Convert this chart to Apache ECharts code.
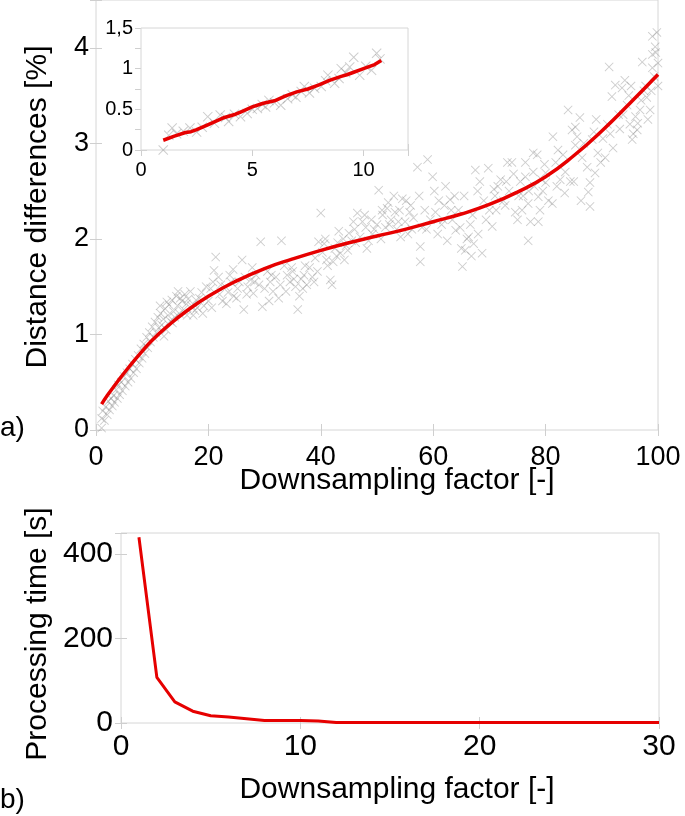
<!DOCTYPE html>
<html>
<head>
<meta charset="utf-8">
<script src="https://cdn.jsdelivr.net/npm/echarts@6/dist/echarts.min.js"></script>
<style>
html,body{margin:0;padding:0;background:#fff;}
#chart{width:685px;height:816px;}
</style>
</head>
<body>
<div id="chart"></div>
<script>
// ---------- DATA ----------
// Panel a) main: scatter of distance differences [%] vs downsampling factor
var mainScatter = [
[1,0.02],[1,0.12],[1.2,0.2],[1.5,0.1],[1.7,0.24],[2,0.16],[2.2,0.3],[2.4,0.21],[2.7,0.33],[2.9,0.25],
[3.1,0.36],[3.3,0.29],[3.6,0.42],[3.8,0.33],[4,0.47],[4.2,0.37],[4.5,0.5],[4.7,0.41],[5,0.56],[5.2,0.46],
[5.5,0.6],[5.7,0.5],[6,0.64],[6.2,0.54],[6.5,0.69],[6.7,0.6],[7,0.74],[7.2,0.64],[7.5,0.78],[7.7,0.7],
[8,0.85],[8.2,0.75],[8.5,0.9],[8.7,0.8],[9,0.97],[9.2,0.86],[9.5,1.02],[9.7,0.92],[10,1.08],[10.2,0.97],
[10.5,1.13],[10.7,1.02],[11,1.18],[11.2,1.07],[11.5,1.22],[11.7,1.1],[12,1.16],[12.3,1.27],[12.5,1.05],[12.8,1.2],
[13,1.31],[13.2,1.14],[13.5,1.36],[13.8,1.24],[14,1.18],[14.3,1.4],[14.5,1.3],[14.8,1.22],[15,1.38],[15.3,1.35],
[15.6,1.26],[15.8,1.42],[16.1,1.32],[16.4,1.37],[16.8,1.45],[17,1.3],[17.3,1.2],[17.6,1.25],[18,1.28],[18.4,1.38],
[18.8,1.44],[19.2,1.3],[19.6,1.5],[20,1.35],[20.4,1.48],[20.8,1.55],[21,1.67],[21.3,1.81],[21.8,1.6],[22.2,1.52],
[22,1.42],[22.5,1.35],[23,1.5],[23.5,1.44],
[24,1.55],[24.5,1.4],[25,1.38],[25.5,1.55],[26,1.78],[26.3,1.26],[26.5,1.6],[27,1.5],[27.5,1.57],[28,1.43],
[28.5,1.62],[29,1.52],[29.3,1.97],[29.6,1.29],[30,1.48],[30.5,1.66],[31,1.55],[31.5,1.45],[32,1.6],[32.5,1.38],
[33,1.98],[33.5,1.72],[34,1.62],[34.5,1.55],[35,1.66],[35.5,1.5],[35.9,1.26],[36.2,1.4],[36.5,1.58],[37,1.62],
[37.5,1.52],[38,1.7],[38.5,1.6],[39,1.8],[39.6,1.97],[40,2.27],[40.3,1.86],[40.6,1.95],[41,1.78],[41.2,1.72],
[41.7,1.57],[42,1.52],[42.5,1.9],[43,1.96],[43.5,1.85],[44,2.0],[44.5,1.93],[45,2.06],[45.5,1.98],[46,2.1],
[46.5,2.27],[47,2.02],[47.4,2.18],[48,2.12],[48.5,1.98],[49,2.2],[49.5,2.1],[50,2.15],[50.3,2.51],[50.7,2.0],
[51,2.25],[51.5,2.12],[52,2.38],[52.5,2.2],[53,2.45],[53.5,2.1],[54,2.3],[54.5,2.42],[55,2.18],[55.5,2.05],
[56,2.35],[56.5,2.22],[57.2,2.75],[57.7,1.76],[57.7,1.92],[58,2.12],[58.5,2.3],[59,2.83],[59.5,2.2],[59.9,2.65],
[60.4,2.28],[60.8,2.05],[61,2.4],[61.5,2.15],[62,2.35],[62.5,1.98],[63,2.41],[63.4,2.2],[64,2.09],[64.5,2.3],
[65,1.9],[65.2,1.71],[65.7,1.88],[66,2.0],[66.3,2.02],[66.8,1.82],[67,2.25],[67.5,2.72],[67.9,2.5],[68,2.05],
[68.7,1.85],[69,2.4],[69.8,2.74],[70,2.3],[70.5,2.13],[71,2.45],[71.5,2.55],[72,2.62],[72.5,2.4],[73.2,2.8],
[73.5,2.5],[74,2.8],[74.6,2.28],[75,2.2],[75.5,2.6],[76,2.45],[76.4,2.8],[76.4,2.65],[76.9,2.37],[76.9,1.98],
[77.3,2.18],[77.8,2.9],[78,2.55],[78.5,2.88],[78.7,2.44],[78.7,2.18],[79,2.3],[79.5,2.5],[80,2.59],[80,2.69],
[80.5,2.4],[81.2,2.37],[81.3,3.07],[82,2.55],[82.2,2.93],[83.1,2.88],[83.5,2.7],[84,3.35],[84.7,3.14],[85.3,2.98],
[85.3,3.17],[85.6,3.07],[86.1,3.27],[86.5,2.85],[87.4,2.75],[87.6,2.49],[87.9,2.59],[87.9,2.34],[88.3,3.04],[88.8,2.69],
[89.3,2.9],[89.8,2.8],[90.6,2.85],[91,3.2],[91.3,3.8],[91.8,3.49],[92.4,3.61],[93,3.3],[93.6,3.58],[94.1,3.66],
[94.5,3.4],[95,3.2],[95.4,3.04],[95.6,3.1],[96.3,3.14],[96.4,3.21],[96.8,3.35],[97.2,3.85],[97.5,3.55],[98,3.48],
[98.2,3.25],[98.6,3.35],[99,3.79],[99,3.93],[99,4.12],[99.5,4.01],[99.8,4.16],[100,3.84],
[43.2,2.08],[44.8,1.88],[46.2,1.96],[47.8,2.25],[49.2,2.05],[50.9,2.3],[52.2,2.15],[53.2,2.28],[54.2,2.02],[55.2,2.4],
[56.2,2.1],[42.2,1.76],[38.8,1.55],[36.8,1.48],[34.8,1.7],[32.8,1.52],[31.2,1.62],[27.8,1.7],[25.2,1.48],[23.8,1.62],
[62.2,2.55],[63.8,2.45],[66.6,2.15],[68.3,2.6],[70.8,2.52],[72.8,2.35],[74.3,2.68],[75.8,2.3],[77.8,2.7],[79.3,2.62],
[81.8,2.8],[83.4,2.48],[84.4,2.6],[86.8,3.0],[88.6,3.12],[90.2,3.05],[92,2.95],[93.2,3.15],[94.8,3.5],[96,3.28],
[97.8,3.6],[99.3,3.7],[100,3.6],
[20.6,1.28],[23.2,1.32],[24.4,1.68],[26.8,1.42],[28.2,1.55],[30.8,1.35],[33.8,1.45],[35.2,1.58],[37.2,1.72],[39.4,1.66],
[40.8,2.0],[42.8,1.82],[44.2,1.78],[45.8,2.18],[48.2,1.9],[51.8,2.32],[53.8,2.18],[55.8,2.28],[57.5,2.45],[58.8,2.1],
[60.2,2.5],[61.8,2.2],[63.2,2.3],[64.8,2.12],[65.5,2.45],[67.2,1.95],[69.4,2.2],[71.2,2.3],[73,2.6],[75.2,2.45],
[77,2.5],[79.8,2.78],[82.6,2.62],[85,2.6],[86.3,2.4],[89,3.25],[91.5,3.1],[93.8,3.3],[95.2,3.6],[97,3.45],
[98.8,3.55],[99.6,3.95],
[11.4,1.3],[12.6,1.34],[13.6,1.12],[14.6,1.45],[16.2,1.2],[17.8,1.36],[19,1.22],[12.1,0.98]
];
// Panel a) main: fitted curve
var fitX = [1,2,4,6,8,10,13,16,20,25,30,35,40,45,50,55,60,65,70,75,80,85,90,95,100];
var fitY = [0.27,0.36,0.52,0.67,0.81,0.94,1.10,1.24,1.40,1.56,1.69,1.79,1.88,1.96,2.03,2.10,2.18,2.26,2.36,2.49,2.65,2.87,3.13,3.42,3.72];

// Panel a) inset
var insetScatter = [
[1.0,0.0],[1.25,0.18],[1.4,0.27],[1.6,0.2],[1.9,0.23],[2.2,0.27],[2.5,0.22],[2.75,0.28],[3.0,0.41],[3.3,0.33],
[3.56,0.43],[3.8,0.4],[3.94,0.35],[4.2,0.44],[4.47,0.41],[4.77,0.45],[5.0,0.5],[5.23,0.51],[5.45,0.56],[5.6,0.53],
[5.75,0.61],[6.0,0.58],[6.28,0.55],[6.59,0.63],[6.8,0.68],[6.96,0.65],[7.2,0.72],[7.34,0.78],[7.57,0.7],[7.8,0.76],
[8.1,0.78],[8.3,0.85],[8.4,0.92],[8.7,0.82],[8.9,0.88],[9.0,1.0],[9.2,0.95],[9.38,1.02],[9.56,1.14],[9.83,0.92],
[10.1,1.03],[10.36,0.98],[10.59,1.19],[10.74,1.12]
];
var insetLineX = [1.0,1.5,2.0,2.25,2.5,3.0,3.5,3.75,4.25,4.5,5.0,5.5,6.0,6.5,7.0,7.5,8.0,8.5,9.0,9.25,9.5,10.0,10.5,10.8];
var insetLineY = [0.12,0.17,0.215,0.225,0.25,0.31,0.37,0.40,0.44,0.47,0.53,0.575,0.605,0.665,0.715,0.75,0.80,0.86,0.905,0.925,0.95,1.00,1.05,1.10];

// Panel b) processing time
var timeX = [1,2,3,4,5,6,7,8,9,10,11,12,13,14,15,16,17,18,19,20,21,22,23,24,25,26,27,28,29,30];
var timeY = [440,108,50,28,17,14,10,6,6,6,5,1,1,1,1,1,1,1,1,1,1,1,1,1,1,1,1,1,1,1];

// Tick label texts
var insetYLabels = {0:'0', 0.5:'0.5', 1:'1', 1.5:'1,5'};

// ---------- STYLE ----------
var FONT = "'Liberation Sans', Arial, Helvetica, sans-serif";
var RED = '#e60000';
var GRIDC = '#d6d6d6';
var TICKC = '#cfcfcf';
var CROSS = 'path://M0,0.7 L0.7,0 L5,4.3 L9.3,0 L10,0.7 L5.7,5 L10,9.3 L9.3,10 L5,5.7 L0.7,10 L0,9.3 L4.3,5 Z';
var CROSSC = 'rgba(130,130,130,0.5)';

function pairs(xs, ys){ return xs.map(function(x,i){ return [x, ys[i]]; }); }

function valAxis(o){
  var a = {
    type:'value', gridIndex:o.grid, min:o.min, max:o.max, interval:o.interval,
    position:o.pos,
    axisLine:{show:false},
    splitLine:{show:false},
    axisTick:{show:true, inside:true, length:6, lineStyle:{color:TICKC, width:1}},
    axisLabel:{show:!!o.label, color:'#000', fontFamily:FONT, fontSize:o.fs||26, margin:o.margin||8,
      formatter:o.fmt}
  };
  if (o.minor) a.minorTick = {show:true, splitNumber:2, length:6, lineStyle:{color:TICKC}};
  return a;
}

var chart = echarts.init(document.getElementById('chart'), null, {renderer:'canvas'});

var option = {
  animation:false,
  backgroundColor:'#fff',
  grid:[
    {left:96, top:0, width:562, height:430, show:true, borderColor:GRIDC, borderWidth:1, backgroundColor:'#fff'},
    {left:141, top:28, width:267, height:122, show:true, borderColor:GRIDC, borderWidth:1, backgroundColor:'#fff', z:5},
    {left:121, top:533, width:538, height:190, show:true, borderColor:GRIDC, borderWidth:1, backgroundColor:'#fff'}
  ],
  xAxis:[
    valAxis({grid:0,min:0,max:100,interval:20,pos:'bottom',label:true,fs:27,margin:14}),
    valAxis({grid:0,min:0,max:100,interval:20,pos:'top'}),
    valAxis({grid:1,min:0,max:12,interval:5,pos:'bottom',label:true,fs:20,margin:10,
      fmt:function(v){ return v%5===0 ? String(v) : ''; }}),
    valAxis({grid:1,min:0,max:12,interval:5,pos:'top'}),
    valAxis({grid:2,min:0,max:30,interval:10,pos:'bottom',label:true,fs:30,margin:9}),
    valAxis({grid:2,min:0,max:30,interval:10,pos:'top'})
  ],
  yAxis:[
    valAxis({grid:0,min:0,max:4.5,interval:1,pos:'left',label:true,fs:27,margin:7,
      fmt:function(v){ return v%1===0 ? String(v) : ''; }}),
    valAxis({grid:0,min:0,max:4.5,interval:1,pos:'right'}),
    valAxis({grid:1,min:0,max:1.5,interval:0.5,pos:'left',label:true,fs:20,margin:8,minor:true,
      fmt:function(v){ return insetYLabels[v] !== undefined ? insetYLabels[v] : ''; }}),
    valAxis({grid:1,min:0,max:1.5,interval:0.5,pos:'right',minor:true}),
    valAxis({grid:2,min:0,max:450,interval:200,pos:'left',label:true,fs:30,margin:8,
      fmt:function(v){ return v%200===0 ? String(v) : ''; }}),
    valAxis({grid:2,min:0,max:450,interval:200,pos:'right'})
  ],
  series:[
    {type:'scatter', xAxisIndex:0, yAxisIndex:0, data:mainScatter, symbol:CROSS, symbolSize:9,
      itemStyle:{color:CROSSC}, silent:true, z:2},
    {type:'line', xAxisIndex:0, yAxisIndex:0, data:pairs(fitX, fitY), smooth:true, showSymbol:false,
      lineStyle:{color:RED, width:3.5}, z:3},
    {type:'scatter', xAxisIndex:2, yAxisIndex:2, data:insetScatter, symbol:CROSS, symbolSize:10,
      itemStyle:{color:CROSSC}, silent:true, z:6},
    {type:'line', xAxisIndex:2, yAxisIndex:2, data:pairs(insetLineX, insetLineY), smooth:false, showSymbol:false,
      lineStyle:{color:RED, width:3.5}, z:7},
    {type:'line', xAxisIndex:4, yAxisIndex:4, data:pairs(timeX, timeY), smooth:false, showSymbol:false,
      lineStyle:{color:RED, width:3}, z:3}
  ],
  graphic:[
    {type:'text', x:38, y:207, rotation:Math.PI/2, style:{text:'Distance differences [%]', font:'30px '+FONT, fill:'#000', textAlign:'center', textVerticalAlign:'middle', verticalAlign:'middle'}},
    {type:'text', x:397, y:481, style:{text:'Downsampling factor [-]', font:'30px '+FONT, fill:'#000', textAlign:'center', textVerticalAlign:'middle', verticalAlign:'middle'}},
    {type:'text', x:0, y:428, style:{text:'a)', font:'28px '+FONT, fill:'#000', textAlign:'left', textVerticalAlign:'middle', verticalAlign:'middle'}},
    {type:'text', x:38, y:634, rotation:Math.PI/2, style:{text:'Processing time [s]', font:'30px '+FONT, fill:'#000', textAlign:'center', textVerticalAlign:'middle', verticalAlign:'middle'}},
    {type:'text', x:397, y:790, style:{text:'Downsampling factor [-]', font:'30px '+FONT, fill:'#000', textAlign:'center', textVerticalAlign:'middle', verticalAlign:'middle'}},
    {type:'text', x:0, y:800, style:{text:'b)', font:'28px '+FONT, fill:'#000', textAlign:'left', textVerticalAlign:'middle', verticalAlign:'middle'}}
  ]
};
chart.setOption(option);
</script>
</body>
</html>
